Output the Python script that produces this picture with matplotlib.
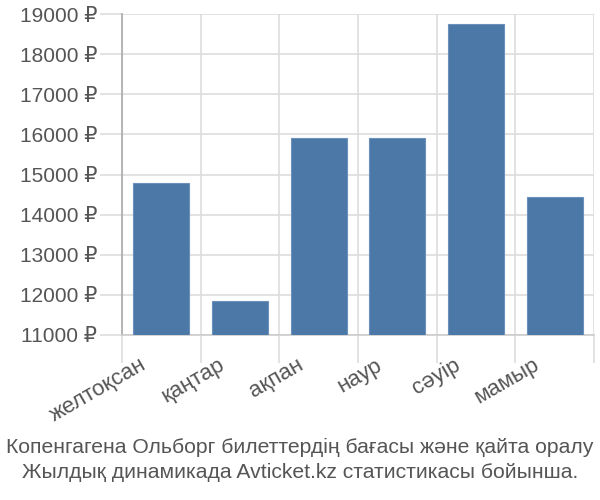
import numpy as np
import matplotlib.pyplot as plt
import matplotlib.transforms as mtransforms

months = ["желтоқсан", "қаңтар", "ақпан", "наур", "сәуір", "мамыр"]
prices = [14800, 11850, 15900, 15900, 18760, 14430]
y_ticks = [11000, 12000, 13000, 14000, 15000, 16000, 17000, 18000, 19000]
caption = ["Копенгагена Ольборг билеттердің бағасы және қайта оралу",
           "Жылдық динамикада Avticket.kz статистикасы бойынша."]

plt.rcParams['font.family'] = ['Liberation Sans', 'DejaVu Sans']

fig = plt.figure(figsize=(6, 5), dpi=100)
ax = fig.add_axes([122 / 600, 1 - 335 / 500, 472 / 600, 321 / 500])

x = np.arange(len(months))
ax.bar(x, prices, width=0.71, bottom=0, color="#4c78a8", edgecolor="#6a90bb",
       linewidth=0.8, zorder=3)

ax.set_xlim(-0.5, len(months) - 0.5)
ax.set_ylim(11000, 19000)

ax.set_yticks(y_ticks)
ax.set_yticklabels([f"{v} ₽" for v in y_ticks], fontsize=15, color="#555555")
ax.tick_params(axis='y', length=16, color="#dddddd", width=1.2, pad=2)

ax.set_xticks(x)
ax.set_xticklabels(months, fontsize=16, color="#555555", rotation=30,
                   ha='right', rotation_mode='anchor')
ax.tick_params(axis='x', which='major', length=0, pad=14)
offset = mtransforms.ScaledTranslation(-22 / 100, 0, fig.dpi_scale_trans)
for lbl in ax.get_xticklabels():
    lbl.set_transform(lbl.get_transform() + offset)
ax.set_xticks(np.arange(-0.5, len(months)), minor=True)
ax.tick_params(axis='x', which='minor', length=20, color="#dddddd", width=1.2)

ax.grid(True, axis='y', color="#dddddd", linewidth=1.2, zorder=0)
ax.grid(True, axis='x', which='minor', color="#dddddd", linewidth=1.2, zorder=0)

for side in ['top', 'right']:
    ax.spines[side].set_visible(False)
ax.spines['left'].set_color("#aaaaaa")
ax.spines['bottom'].set_color("#cccccc")
ax.spines['left'].set_linewidth(1.2)
ax.spines['bottom'].set_linewidth(1.2)

fig.text(0.5, 1 - 447 / 500, caption[0], ha='center', va='center', fontsize=15.2,
         color="#555555")
fig.text(0.5, 1 - 473 / 500, caption[1], ha='center', va='center', fontsize=15.2,
         color="#555555")

fig.savefig("out.png", dpi=100)
